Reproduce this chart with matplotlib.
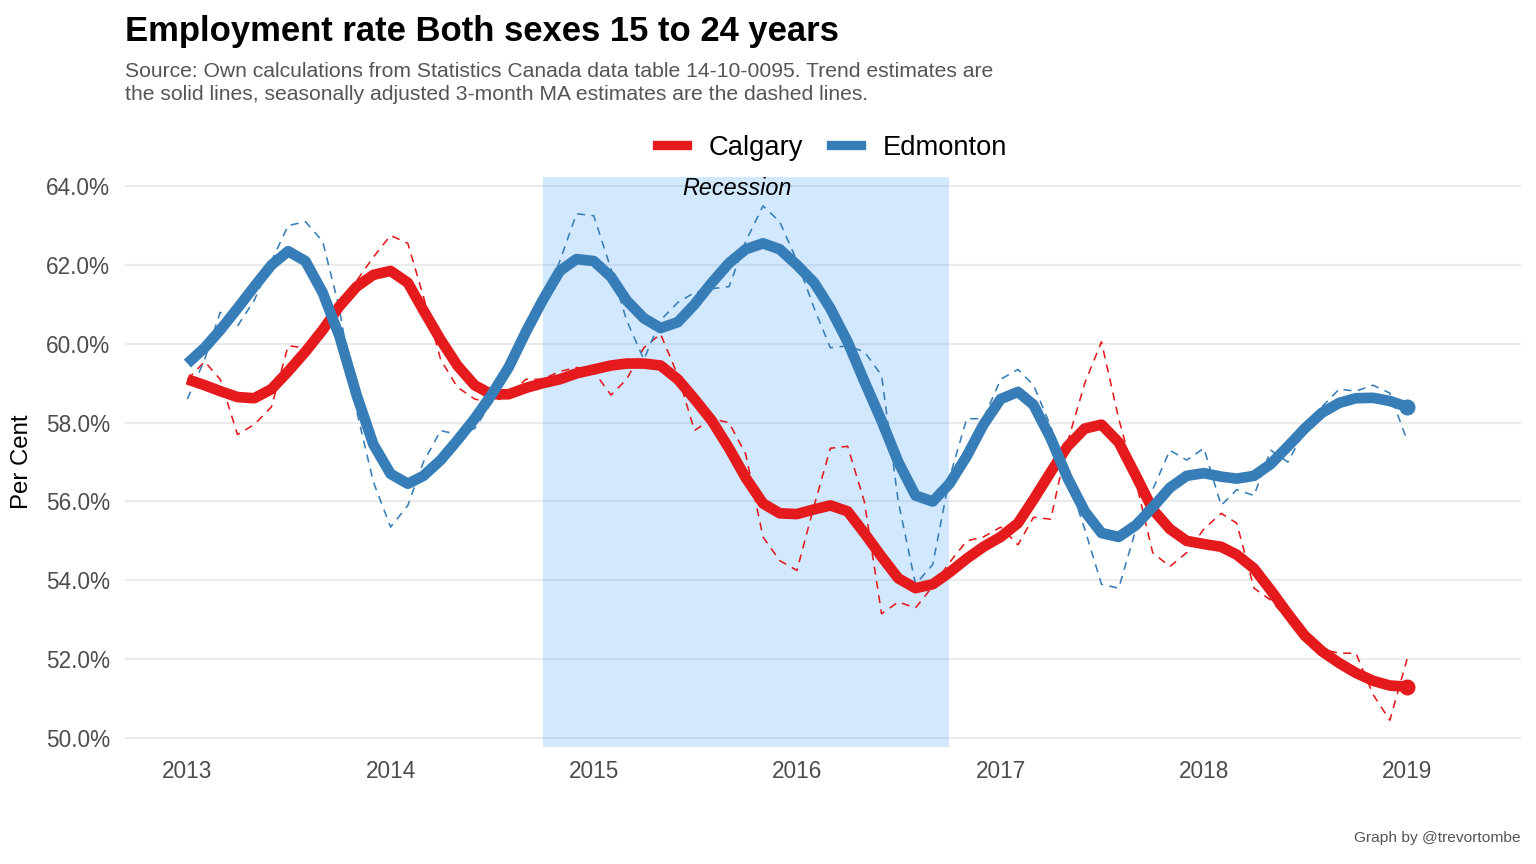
import numpy as np
import pandas as pd
import matplotlib
matplotlib.use("Agg")
import matplotlib.pyplot as plt
from matplotlib.lines import Line2D
import matplotlib.ticker as mticker

plt.rcParams['font.family'] = ['Liberation Sans', 'DejaVu Sans']

# ---- data (monthly, Jan 2013 .. Jan 2019) ----
months = pd.date_range('2013-01-01', '2019-01-01', freq='MS')

calgary_trend = [
    59.10, 58.95, 58.80, 58.65, 58.62, 58.85, 59.30, 59.80, 60.35, 60.95, 61.45, 61.75,
    61.85, 61.55, 60.85, 60.10, 59.45, 58.95, 58.72, 58.72, 58.88, 59.00, 59.10, 59.25,
    59.35, 59.45, 59.50, 59.50, 59.45, 59.10, 58.60, 58.05, 57.35, 56.60, 55.95, 55.70,
    55.68, 55.80, 55.90, 55.75, 55.20, 54.60, 54.05, 53.80, 53.90, 54.20, 54.55, 54.85,
    55.10, 55.45, 56.05, 56.75, 57.40, 57.85, 57.95, 57.50, 56.65, 55.80, 55.30, 55.00,
    54.92, 54.85, 54.65, 54.30, 53.75, 53.15, 52.60, 52.20, 51.90, 51.65, 51.45, 51.33,
    51.30,
]
calgary_ma = [
    59.10, 59.55, 59.10, 57.70, 57.95, 58.40, 59.95, 59.90, 60.30, 60.90, 61.60, 62.20,
    62.75, 62.55, 61.20, 59.60, 58.90, 58.60, 58.50, 58.70, 59.10, 59.10, 59.30, 59.40,
    59.30, 58.70, 59.10, 59.90, 60.25, 59.20, 57.80, 58.10, 58.00, 57.20, 55.10, 54.50,
    54.25, 55.90, 57.35, 57.40, 56.00, 53.15, 53.45, 53.30, 53.85, 54.45, 55.00, 55.10,
    55.35, 54.90, 55.60, 55.55, 57.50, 59.00, 60.05, 58.10, 56.50, 54.70, 54.35, 54.70,
    55.30, 55.70, 55.45, 53.80, 53.50, 53.00, 52.55, 52.25, 52.15, 52.15, 51.10, 50.45,
    52.00,
]
edmonton_trend = [
    59.50, 59.90, 60.35, 60.90, 61.45, 62.00, 62.35, 62.10, 61.30, 60.20, 58.70, 57.45,
    56.70, 56.45, 56.65, 57.05, 57.55, 58.10, 58.70, 59.40, 60.30, 61.10, 61.85, 62.15,
    62.10, 61.70, 61.10, 60.65, 60.40, 60.55, 61.00, 61.55, 62.05, 62.40, 62.55, 62.40,
    62.00, 61.55, 60.90, 60.05, 59.05, 58.05, 57.00, 56.15, 56.00, 56.45, 57.15, 57.95,
    58.60, 58.78, 58.45, 57.60, 56.60, 55.75, 55.20, 55.10, 55.40, 55.85, 56.35, 56.65,
    56.72, 56.63, 56.58, 56.65, 56.95, 57.40, 57.85, 58.25, 58.50, 58.62, 58.63, 58.55,
    58.40,
]
edmonton_ma = [
    58.60, 59.60, 60.80, 60.45, 61.10, 62.10, 63.00, 63.10, 62.60, 60.90, 58.30, 56.50,
    55.35, 55.90, 57.00, 57.80, 57.70, 57.85, 58.50, 59.30, 60.20, 60.90, 62.10, 63.30,
    63.25, 61.90, 60.60, 59.60, 60.60, 61.05, 61.30, 61.40, 61.45, 62.60, 63.50, 63.10,
    62.10, 60.90, 59.90, 59.95, 59.80, 59.20, 56.00, 53.90, 54.40, 56.60, 58.10, 58.10,
    59.10, 59.35, 58.95, 57.90, 56.60, 55.30, 53.90, 53.80, 55.30, 56.30, 57.30, 57.05,
    57.35, 55.90, 56.30, 56.15, 57.30, 57.00, 57.80, 58.40, 58.85, 58.80, 58.95, 58.75,
    57.55,
]

recession_start = pd.Timestamp('2014-10-01')
recession_end = pd.Timestamp('2016-10-01')
year_ticks = pd.to_datetime([f'{y}-01-01' for y in range(2013, 2020)])

RED = '#E41A1C'
BLUE = '#377EB8'

# ---- figure ----
fig = plt.figure(figsize=(16, 9), dpi=96)
ax = fig.add_axes([0.0814, 0.1354, 0.9086, 0.6596])

ax.axvspan(recession_start, recession_end, color='#1E90FF', alpha=0.2, lw=0, zorder=1)
ax.text(pd.Timestamp('2015-09-15'), 63.95, 'Recession', style='italic', fontsize=17.5,
        ha='center', va='center', color='black', zorder=5)

series = [('Calgary', calgary_trend, calgary_ma, RED),
          ('Edmonton', edmonton_trend, edmonton_ma, BLUE)]
for name, trend, ma, col in series:
    ax.plot(months, ma, color=col, lw=1.2, linestyle=(0, (5, 4)), zorder=3)
    ax.plot(months, trend, color=col, lw=8, solid_capstyle='butt',
            solid_joinstyle='round', zorder=4)
    ax.plot(months[-1], trend[-1], 'o', color=col, markersize=11, zorder=4)

ax.set_ylim(49.77, 64.23)
ax.set_xlim(pd.Timestamp('2012-09-11'), pd.Timestamp('2019-07-24'))
ax.set_yticks(np.arange(50, 65, 2))
ax.yaxis.set_major_formatter(mticker.FuncFormatter(lambda v, p: f'{v:.1f}%'))
ax.set_xticks(year_ticks)
ax.set_xticklabels([str(d.year) for d in year_ticks])

ax.grid(axis='y', color='#EBEBEB', lw=1.6, zorder=0)
ax.grid(axis='x', visible=False)
ax.set_axisbelow(True)
for s in ax.spines.values():
    s.set_visible(False)
ax.tick_params(axis='both', length=0, labelsize=17, labelcolor='#4D4D4D')
ax.tick_params(axis='x', pad=10)
ax.tick_params(axis='y', pad=11)
ax.set_ylabel('Per Cent', fontsize=18, color='black', labelpad=10)

# title block
fig.text(125 / 1536, 1 - 31 / 864, 'Employment rate Both sexes 15 to 24 years',
         fontsize=26, fontweight='bold', va='center', ha='left')
fig.text(125 / 1536, 1 - 83 / 864,
         'Source: Own calculations from Statistics Canada data table 14-10-0095. Trend estimates are\n'
         'the solid lines, seasonally adjusted 3-month MA estimates are the dashed lines.',
         fontsize=15.8, color='#555555', va='center', ha='left', linespacing=1.3)

handles = [Line2D([0], [0], color=RED, lw=7), Line2D([0], [0], color=BLUE, lw=7)]
fig.legend(handles, ['Calgary', 'Edmonton'], loc='center', ncol=2,
           bbox_to_anchor=(832 / 1536, 1 - 148 / 864), frameon=False, fontsize=20.5,
           handlelength=1.1, columnspacing=1.0, handletextpad=0.8)

fig.text(1521 / 1536, 1 - 838 / 864, 'Graph by @trevortombe', fontsize=11.6,
         color='#555555', ha='right', va='center')

fig.savefig('out.png', dpi=96)
